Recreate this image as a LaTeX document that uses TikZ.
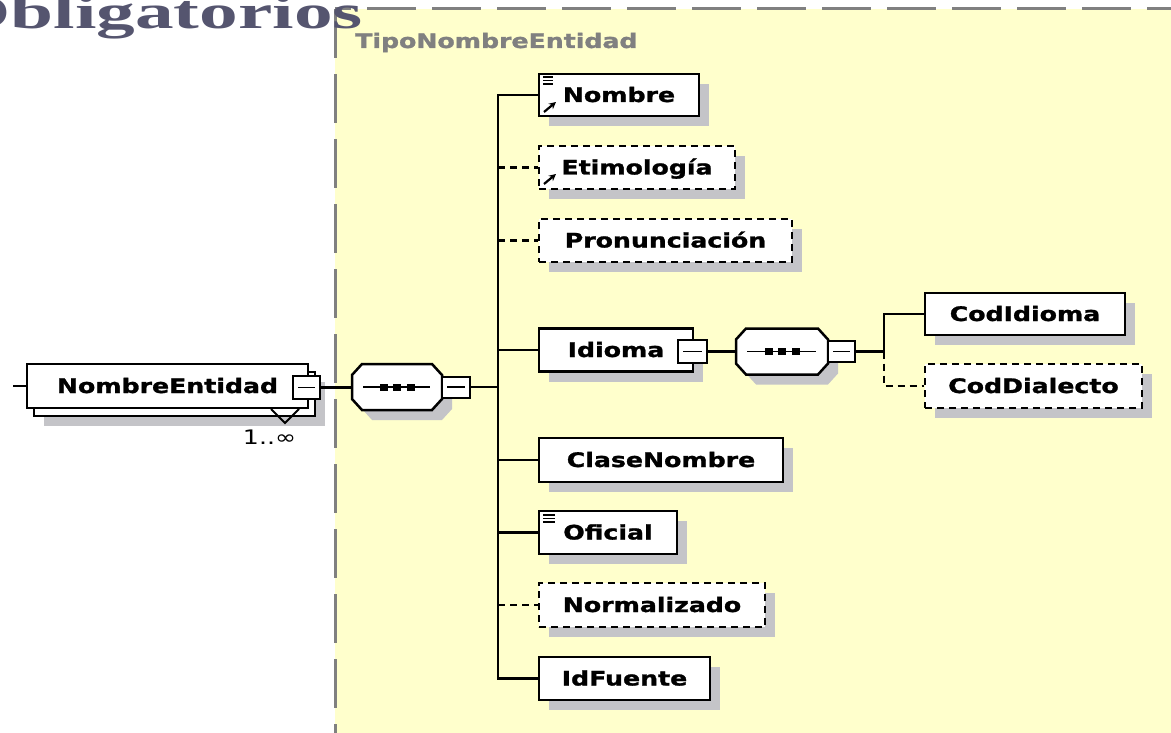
\documentclass[tikz,border=0pt]{standalone}
\usepackage{fontspec}
\usepackage{graphicx}
\usetikzlibrary{shadows,arrows.meta}
\newfontfamily\lblfam{DejaVu Sans}[BoldFeatures={FakeBold=1.2}]
\newfontfamily\titlefam{Liberation Serif}
\definecolor{yel}{HTML}{FFFFCC}
\definecolor{shadowc}{HTML}{C4C4C8}
\definecolor{frameg}{HTML}{808080}
\definecolor{titlec}{HTML}{55556F}
\newcommand\lb[1]{\scalebox{1.26}[1]{#1}}
% octagonal sequence compositor: name, cx, cy, w, h
\newcommand\octo[5]{%
  \fill[shadowc, shift={(10,10)}] (#2-#4/2+10,#3-#5/2) -- (#2+#4/2-10,#3-#5/2) -- (#2+#4/2,#3-#5/2+11) -- (#2+#4/2,#3+#5/2-11) -- (#2+#4/2-10,#3+#5/2) -- (#2-#4/2+10,#3+#5/2) -- (#2-#4/2,#3+#5/2-11) -- (#2-#4/2,#3-#5/2+11) -- cycle;
  \filldraw[fill=white, draw=black, line width=2.5pt] (#2-#4/2+10,#3-#5/2) -- (#2+#4/2-10,#3-#5/2) -- (#2+#4/2,#3-#5/2+11) -- (#2+#4/2,#3+#5/2-11) -- (#2+#4/2-10,#3+#5/2) -- (#2-#4/2+10,#3+#5/2) -- (#2-#4/2,#3+#5/2-11) -- (#2-#4/2,#3-#5/2+11) -- cycle;
  \node[minimum width=#4pt, minimum height=#5pt, inner sep=0pt] (#1) at (#2,#3) {};
  \draw[line width=1.8pt] (#2-#4/2+11,#3) -- (#2+#4/2-12,#3);
  \foreach \dd in {-13.5,0,13.5} \fill (#2+\dd-4,#3-3.5) rectangle (#2+\dd+4,#3+3.5);
}
\begin{document}
\begin{tikzpicture}[x=1pt,y=-1pt,
  elem/.style={draw, line width=2.5pt, fill=white, minimum height=43pt, inner sep=0pt,
    text height=14.6pt, text depth=0.6pt, font=\lblfam\bfseries\fontsize{20}{20}\selectfont,
    general shadow={fill=shadowc, shadow xshift=10pt, shadow yshift=-10pt}},
  optelem/.style={elem, dash pattern=on 7pt off 5pt},
  plainelem/.style={draw, line width=2.5pt, fill=white, minimum height=44pt, inner sep=0pt,
    text height=14.6pt, text depth=0.6pt, font=\lblfam\bfseries\fontsize{20}{20}\selectfont},
  minus/.style={draw, line width=2pt, fill=white, inner sep=0pt,
    path picture={\draw[line width=1.8pt] ([xshift=5pt]path picture bounding box.west) -- ([xshift=-5pt]path picture bounding box.east);}},
  con/.style={line width=2.4pt},
  dcon/.style={line width=2.4pt, dash pattern=on 7pt off 5pt},
  icon/.style={line width=1.5pt},
  link/.style={line width=2.2pt, -{Stealth[length=7pt,width=7pt]}}
]
\useasboundingbox (0,0) rectangle (1171,733);
\clip (0,0) rectangle (1171,733);
% complex type area
\fill[yel] (335,9) rectangle (1171,733);
\draw[frameg, line width=3pt, dash pattern=on 49pt off 16pt, dash phase=33pt] (335,9) -- (1171,9);
\draw[frameg, line width=3pt, dash pattern=on 49pt off 16pt] (335,9) -- (335,733);
\node[anchor=base east, inner sep=0pt, text=titlec, font=\titlefam\bfseries\fontsize{48}{48}\selectfont] (title) at (363,29) {\scalebox{1.61}[1]{Obligatorios}};
\node[anchor=base west, inner sep=0pt, text=frameg, font=\lblfam\bfseries\fontsize{20}{20}\selectfont] (tipo) at (355,48) {\lb{TipoNombreEntidad}};

% root element (repeated)
\node[plainelem, minimum width=281pt, general shadow={fill=shadowc, shadow xshift=10pt, shadow yshift=-10pt}] (neback) at (174.5,394) {};
\node[plainelem, minimum width=281pt] (ne) at (167.5,386) {\lb{NombreEntidad}\hspace{8pt}};
\node[minus, minimum width=27pt, minimum height=23pt] (nem) at (306.5,387.5) {};
\draw[line width=1.8pt] (271,409) -- (285,423) -- (299,409);
\node[font=\lblfam\fontsize{20}{20}\selectfont, inner sep=0pt] (card) at (269.5,437.5) {\lb{1..∞}};
\coordinate (inA) at (13,386);
\draw[con] (inA) -- (ne.west);

% first sequence
\octo{seqA}{397}{387}{90}{46}
\node[minus, minimum width=28pt, minimum height=21pt] (seqAm) at (456,387) {};
\draw[con] (nem.east) -- (nem.east -| seqA.west);
\coordinate (tr) at (498,387);
\draw[con] (seqAm.east) -- (tr);

% children
\node[elem, minimum width=160pt, minimum height=42pt] (nombre) at (619,95) {\lb{Nombre}};
\node[optelem, minimum width=196pt] (etim) at (637,167.5) {\lb{Etimología}};
\node[optelem, minimum width=253pt] (pron) at (665.5,240.5) {\lb{Pronunciación}};
\node[elem, minimum width=154pt] (idioma) at (616,350) {\lb{Idioma}\hspace{10pt}};
\node[minus, minimum width=29pt, minimum height=23pt] (idiomam) at (692.5,351.5) {};
\node[elem, minimum width=244pt, minimum height=44pt] (clase) at (661,460) {\lb{ClaseNombre}};
\node[elem, minimum width=138pt] (oficial) at (608,532.5) {\lb{Oficial}};
\node[optelem, minimum width=226pt, minimum height=44pt] (normal) at (652,605) {\lb{Normalizado}};
\node[elem, minimum width=171pt] (idfuente) at (624.5,678.5) {\lb{IdFuente}};

\draw[con] (tr) |- (nombre.west);
\draw[con] (tr) |- (idfuente.west);
\draw[dcon] (etim.west -| tr) -- (etim.west);
\draw[dcon] (pron.west -| tr) -- (pron.west);
\draw[con] (idioma.west -| tr) -- (idioma.west);
\draw[con] (clase.west -| tr) -- (clase.west);
\draw[con] (oficial.west -| tr) -- (oficial.west);
\draw[dcon] (normal.west -| tr) -- (normal.west);

% icons
\foreach \yy in {77,80.5,84} \draw[icon] (543,\yy) -- (553,\yy);
\draw[link] (544,112) -- (556,102);
\draw[link] (544,184) -- (556,174);
\foreach \yy in {515,518.5,522} \draw[icon] (543,\yy) -- (555,\yy);

% second sequence
\octo{seqB}{782}{351.5}{92}{46}
\node[minus, minimum width=27pt, minimum height=21pt] (seqBm) at (841.5,351.5) {};
\draw[con] (idiomam.east) -- (idiomam.east -| seqB.west);
\coordinate (br) at (884,351.5);
\draw[con] (seqBm.east) -- (br);
\node[elem, minimum width=200pt, minimum height=42pt] (codid) at (1025,314) {\lb{CodIdioma}};
\node[optelem, minimum width=217pt, minimum height=44pt] (coddia) at (1033.5,386) {\lb{CodDialecto}};
\draw[con] (br) |- (codid.west);
\draw[dcon] (br) |- (coddia.west);
\end{tikzpicture}
\end{document}
